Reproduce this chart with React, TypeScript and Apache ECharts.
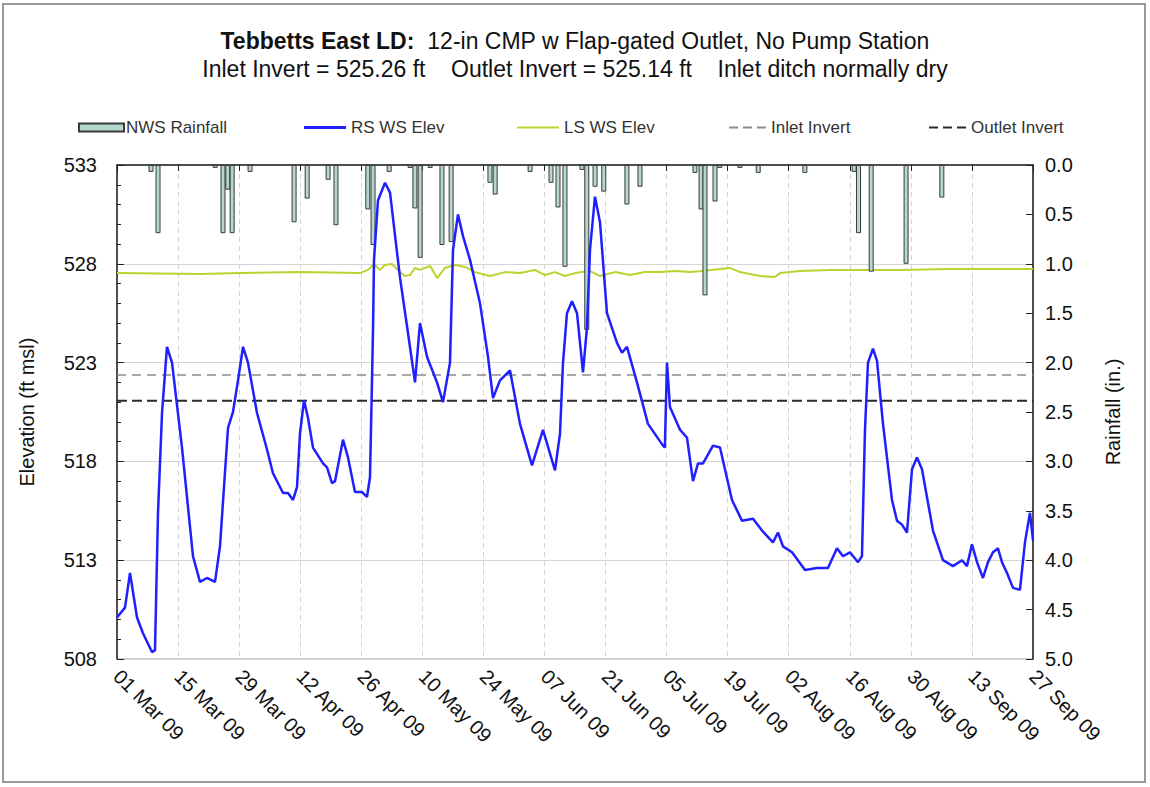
import React, { useEffect, useRef } from "react";
import * as echarts from "echarts";

const START_UTC = Date.UTC(2009, 2, 1); // 01 Mar 09 = day 0
const MONTHS = ["Jan", "Feb", "Mar", "Apr", "May", "Jun", "Jul", "Aug", "Sep", "Oct", "Nov", "Dec"];

// x ticks: every 14 days from 01 Mar 09 to 27 Sep 09
const X_MIN_DAY = 0;
const X_MAX_DAY = 210;
const X_TICK_DAYS = 14;

// Daily rainfall [day offset, inches]
const nwsRainfall: [number, number][] = [
  [7.8, 0.07], [9.4, 0.69], [22.5, 0.03], [24.3, 0.69], [25.4, 0.25], [26.4, 0.69],
  [30.5, 0.07], [40.6, 0.58], [43.6, 0.34], [48.4, 0.15], [50.2, 0.61], [57.5, 0.45],
  [58.7, 0.81], [62.4, 0.07], [67.2, 0.03], [68.3, 0.44], [69.5, 0.94], [71.8, 0.03],
  [74.5, 0.81], [76.6, 0.78], [85.5, 0.18], [86.7, 0.3], [94.7, 0.07], [99.5, 0.18],
  [101.1, 0.43], [102.7, 1.03], [106.6, 0.05], [107.7, 1.67], [109.6, 0.22], [111.6, 0.27],
  [116.9, 0.4], [119.9, 0.22], [132.5, 0.08], [133.9, 0.45], [134.8, 1.32], [137.1, 0.37],
  [138.2, 0.03], [142.8, 0.03], [147.0, 0.08], [157.7, 0.08], [169.0, 0.07], [170.0, 0.69],
  [172.9, 1.08], [180.9, 1.0], [189.1, 0.33],
];

// RS WS Elev [day offset, ft msl]
const rsWsElev: [number, number][] = [
  [0, 510.1], [1.83, 510.6], [2.98, 512.35], [4.59, 510.1], [5.96, 509.3], [8.02, 508.35],
  [8.71, 508.45], [9.4, 515.4], [10.32, 520.45], [11.46, 523.8], [12.61, 523], [14.9, 518.7],
  [17.42, 513.2], [19.03, 511.9], [20.63, 512.1], [22.47, 511.9], [23.61, 513.7], [25.45, 519.7],
  [26.59, 520.5], [27.74, 522.1], [28.89, 523.8], [30.03, 523], [32.1, 520.45], [34.39, 518.6],
  [35.76, 517.4], [38.06, 516.4], [39.2, 516.4], [40.35, 516.05], [41.27, 516.7], [41.95, 519.4],
  [42.87, 521.1], [43.79, 520.2], [44.93, 518.7], [47.23, 517.9], [48.14, 517.7], [49.29, 516.9],
  [49.98, 517], [51.81, 519.1], [52.96, 518.2], [54.56, 516.45], [56.17, 516.45], [57.31, 516.2],
  [58.0, 517.2], [58.46, 522.1], [58.69, 524.65], [58.92, 528.2], [59.83, 531.2], [61.44, 532.1],
  [62.59, 531.6], [64.88, 527.3], [66.71, 524.5], [68.32, 522], [69.46, 525], [71.07, 523.3],
  [73.36, 522], [74.74, 521], [76.34, 523], [77.03, 528.7], [78.17, 530.5], [79.32, 529.4],
  [80.93, 528.2], [83.22, 526], [85.05, 523.3], [86.2, 521.2], [87.8, 522.1], [90.1, 522.6],
  [92.39, 519.9], [95.14, 517.8], [97.66, 519.6], [100.41, 517.55], [101.56, 519.4], [102.25, 523],
  [103.16, 525.5], [104.31, 526.1], [105.46, 525.5], [106.83, 522.5], [107.75, 524.8], [108.44, 528.7],
  [109.58, 531.4], [110.73, 530.1], [112.33, 525.5], [114.63, 524], [115.77, 523.5], [116.92, 523.8],
  [119.21, 522], [121.73, 519.9], [125.17, 518.8], [125.6, 518.7], [126.09, 523], [126.77, 520.75],
  [129.07, 519.6], [130.67, 519.2], [132.05, 517], [133.2, 517.9], [134.34, 517.9], [136.64, 518.8],
  [138.24, 518.7], [140.99, 516.05], [143.28, 515], [145.81, 515.1], [147.87, 514.5], [150.39, 513.9],
  [151.54, 514.4], [152.68, 513.7], [154.75, 513.4], [157.73, 512.5], [160.48, 512.6], [163.0, 512.6],
  [165.06, 513.6], [166.44, 513.2], [168.04, 513.4], [169.88, 512.9], [170.79, 513.2], [171.48, 519.6],
  [172.17, 523], [173.31, 523.7], [174.23, 523.1], [175.61, 519.9], [177.67, 516.05], [178.82, 515],
  [179.96, 514.8], [181.11, 514.4], [182.26, 517.6], [183.4, 518.2], [184.55, 517.6], [187.07, 514.5],
  [189.36, 513], [191.66, 512.7], [193.72, 513], [194.86, 512.7], [196.01, 513.8], [197.16, 512.9],
  [198.53, 512.1], [199.68, 512.9], [200.83, 513.4], [201.97, 513.6], [202.89, 512.9], [204.04, 512.35],
  [205.41, 511.6], [207.01, 511.5], [208.16, 513.9], [209.31, 515.4], [210, 514],
];

// LS WS Elev [day offset, ft msl]
const lsWsElev: [number, number][] = [
  [0, 527.53], [19.0, 527.48], [28.2, 527.53], [42.0, 527.58], [55.7, 527.53], [57.5, 527.69],
  [58.5, 527.89], [59.1, 527.94], [60.3, 527.69], [61.4, 527.94], [63.0, 527.99], [64.4, 527.69],
  [66.0, 527.38], [67.2, 527.43], [68.3, 527.79], [69.5, 527.69], [71.8, 527.89], [73.4, 527.28],
  [75.2, 527.79], [77.5, 527.94], [79.8, 527.84], [82.1, 527.58], [85.5, 527.38], [89.0, 527.58],
  [92.4, 527.53], [95.8, 527.69], [98.1, 527.43], [100.4, 527.58], [102.7, 527.38], [105.0, 527.53],
  [108.4, 527.64], [110.7, 527.38], [114.2, 527.58], [117.6, 527.43], [121.0, 527.58], [124.5, 527.58],
  [127.9, 527.64], [131.4, 527.58], [134.1, 527.64], [140.5, 527.79], [142.8, 527.58], [145.1, 527.48],
  [147.4, 527.38], [150.8, 527.33], [152.0, 527.53], [156.6, 527.64], [163.5, 527.69], [170.3, 527.69],
  [179.5, 527.69], [191.0, 527.74], [202.4, 527.74], [210, 527.74],
];

// Reference levels as drawn (ft msl)
const inletInvertLevel = 522.37;
const outletInvertLevel = 521.07;

const FONT = "'Liberation Sans Narrow', 'Liberation Sans', Arial, sans-serif";
const DASH_ICON = "path://M0,0h9v2h-9z M14,0h9v2h-9z M28,0h9v2h-9z";

function dayLabel(v: number): string {
  const d = new Date(START_UTC + Math.round(v) * 86400000);
  const dd = String(d.getUTCDate()).padStart(2, "0");
  return `${dd} ${MONTHS[d.getUTCMonth()]} ${String(d.getUTCFullYear()).slice(2)}`;
}

export default function App() {
  const ref = useRef<HTMLDivElement>(null);
  useEffect(() => {
    document.body.style.margin = "0";
    const chart = echarts.init(ref.current!, null, { renderer: "svg" });
    const legendText = { fontFamily: FONT, fontSize: 17, color: "#333" };
    chart.setOption({
      animation: false,
      backgroundColor: "#fff",
      title: [
        {
          text: "{b|Tebbetts East LD:}  12-in CMP w Flap-gated Outlet, No Pump Station",
          left: "center",
          top: 24,
          textStyle: {
            fontFamily: FONT, fontSize: 23, fontWeight: "normal", color: "#111",
            rich: { b: { fontFamily: FONT, fontSize: 23, fontWeight: "bold", color: "#111" } },
          },
        },
        {
          text: "Inlet Invert = 525.26 ft    Outlet Invert = 525.14 ft    Inlet ditch normally dry",
          left: "center",
          top: 52,
          textStyle: { fontFamily: FONT, fontSize: 23, fontWeight: "normal", color: "#111" },
        },
      ],
      legend: [
        { data: [{ name: "NWS Rainfall", icon: "rect" }], left: 73, top: 114, itemWidth: 45, itemHeight: 8, itemGap: 4, textStyle: { ...legendText, padding: [0, 0, 0, -3] } },
        { data: [{ name: "RS WS Elev", icon: "rect" }], left: 299, top: 114, itemWidth: 42, itemHeight: 3, textStyle: legendText },
        { data: [{ name: "LS WS Elev", icon: "rect" }], left: 512, top: 114, itemWidth: 42, itemHeight: 2, textStyle: legendText },
        { data: [{ name: "Inlet Invert", icon: DASH_ICON }], left: 724, top: 114, itemWidth: 37, itemHeight: 2, textStyle: legendText },
        { data: [{ name: "Outlet Invert", icon: DASH_ICON }], left: 924, top: 114, itemWidth: 37, itemHeight: 2, textStyle: legendText },
      ],
      grid: { left: 117, right: 117, top: 165, bottom: 128, show: true, borderColor: "#9a9a9a", borderWidth: 1, backgroundColor: "transparent" },
      xAxis: {
        type: "value",
        min: X_MIN_DAY,
        max: X_MAX_DAY,
        interval: X_TICK_DAYS,
        axisLine: { show: true, lineStyle: { color: "#222", width: 1.5 } },
        axisTick: { show: true, inside: false, length: 6, lineStyle: { color: "#222" } },
        axisLabel: { rotate: -45, margin: 14, fontFamily: FONT, fontSize: 20, color: "#111", formatter: (v: number) => dayLabel(v) },
        splitLine: { show: true, lineStyle: { color: "#d4d4d4", type: [5, 4], width: 1 } },
      },
      yAxis: [
        {
          type: "value",
          min: 508,
          max: 533,
          interval: 5,
          name: "Elevation (ft msl)",
          nameLocation: "middle",
          nameRotate: 90,
          nameGap: 80,
          nameTextStyle: { fontFamily: FONT, fontSize: 20, color: "#111" },
          axisLine: { show: true, lineStyle: { color: "#222", width: 1.5 } },
          axisTick: { show: true, inside: true, length: 7, lineStyle: { color: "#222" } },
          minorTick: { show: true, splitNumber: 5, length: 4, lineStyle: { color: "#222" } },
          axisLabel: { margin: 20, fontFamily: FONT, fontSize: 20, color: "#111" },
          splitLine: { show: true, lineStyle: { color: "#d4d4d4", width: 1 } },
        },
        {
          type: "value",
          min: 0,
          max: 5,
          interval: 0.5,
          inverse: true,
          name: "Rainfall (in.)",
          nameLocation: "middle",
          nameRotate: 90,
          nameGap: 70,
          nameTextStyle: { fontFamily: FONT, fontSize: 20, color: "#111" },
          axisLine: { show: true, lineStyle: { color: "#222", width: 1.5 } },
          axisTick: { show: true, inside: true, length: 7, lineStyle: { color: "#222" } },
          axisLabel: { margin: 12, fontFamily: FONT, fontSize: 20, color: "#111", formatter: (v: number) => v.toFixed(1) },
          splitLine: { show: false },
        },
      ],
      graphic: [
        { type: "rect", shape: { x: 3, y: 4, width: 1142, height: 778 }, style: { fill: "none", stroke: "#9a9a9a", lineWidth: 2 }, silent: true },
      ],
      series: [
        {
          name: "LS WS Elev", type: "line", yAxisIndex: 0, data: lsWsElev, symbol: "none",
          lineStyle: { color: "#bfd12e", width: 2 }, itemStyle: { color: "#bfd12e" }, z: 2,
        },
        {
          name: "Inlet Invert", type: "line", yAxisIndex: 0,
          data: [[X_MIN_DAY, inletInvertLevel], [X_MAX_DAY, inletInvertLevel]], symbol: "none",
          lineStyle: { color: "#8c8c8c", width: 1.5, type: [9, 6] }, itemStyle: { color: "#8c8c8c" }, z: 2,
        },
        {
          name: "Outlet Invert", type: "line", yAxisIndex: 0,
          data: [[X_MIN_DAY, outletInvertLevel], [X_MAX_DAY, outletInvertLevel]], symbol: "none",
          lineStyle: { color: "#2a2a2a", width: 2, type: [10, 5] }, itemStyle: { color: "#2a2a2a" }, z: 2,
        },
        {
          name: "NWS Rainfall", type: "bar", yAxisIndex: 1, data: nwsRainfall, barWidth: 5,
          itemStyle: { color: "#b4d8cd", borderColor: "#3a3a3a", borderWidth: 1 }, z: 3,
        },
        {
          name: "RS WS Elev", type: "line", yAxisIndex: 0, data: rsWsElev, symbol: "none",
          lineStyle: { color: "#1f1fff", width: 2.5 }, itemStyle: { color: "#1f1fff" }, z: 4,
        },
      ],
    });
    return () => chart.dispose();
  }, []);
  return <div ref={ref} style={{ width: 1150, height: 787 }} />;
}
